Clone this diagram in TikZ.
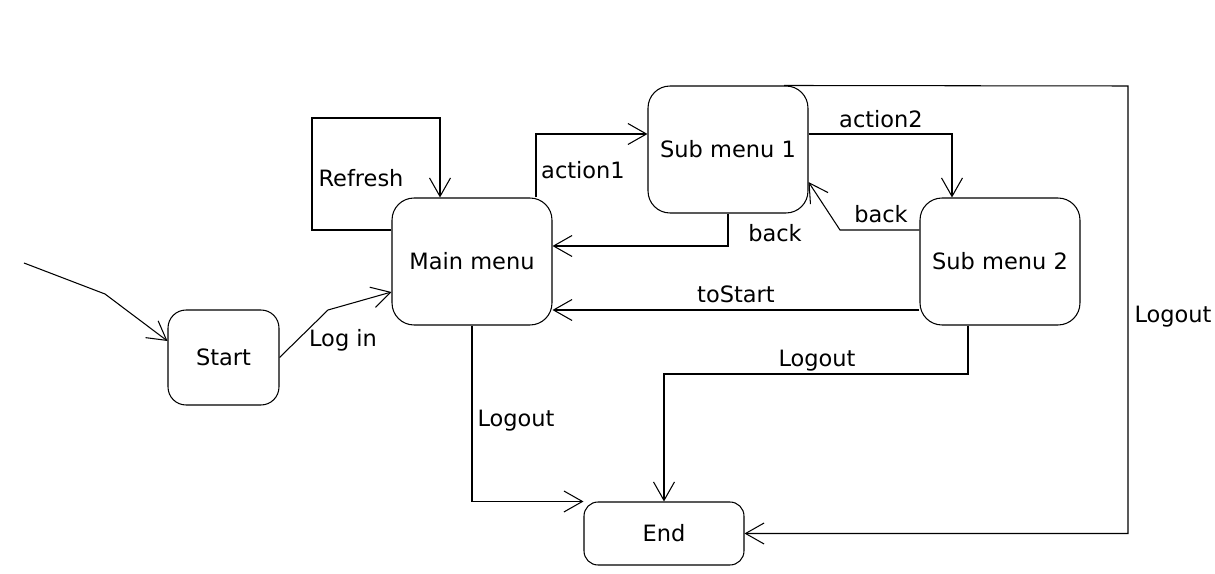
\documentclass[tikz,border=0pt]{standalone}
\usepackage{fontspec}
\setmainfont{DejaVu Sans}
\usetikzlibrary{arrows.meta}
\tikzset{
	state/.style={draw, line width=0.6pt, rounded corners=0.44cm, minimum width=3.2cm, minimum height=2.54cm, inner sep=0pt},
	trans/.style={line width=0.6pt, -{Straight Barb[length=0.37cm, width=0.42cm, line width=0.6pt]}},
	lbl/.style={anchor=base, inner sep=0pt},
}

\begin{document}
\begin{tikzpicture}[x=0.02cm, y=-0.02cm, font=\fontsize{12.8pt}{15pt}\selectfont]
		\useasboundingbox (0,0) rectangle (1215,574);
		
		\node[state, minimum width=2.22cm, minimum height=1.9cm, rounded corners=0.36cm] (start) at (223.5,357.5) {Start};
		\node[state] (main) at (472,261.5) {Main menu};
		\node[state] (sub1) at (728,149.5) {Sub menu 1};
		\node[state] (sub2) at (1000,261.5) {Sub menu 2};
		\node[state, minimum height=1.26cm, rounded corners=0.28cm] (end) at (664,533.5) {End};
		
		\coordinate (init) at (24,263);
		\draw[trans] (init) -- (105,294) -- (start.west |- 0,341);
		\draw[trans] (start.east) -- (328,310) -- (main.west |- 0,292); \node[lbl] (login) at (343,347) {Log in};
		
		\draw[trans] (main.west |- 0,230) -| (312,118) -| (main.north -| 440,0); \node[lbl] (refresh) at (361,187) {Refresh};
		\draw[trans] (main.north -| 536,0) |- (sub1.west |- 0,134); \node[lbl] (act1) at (583,179) {action1};
		\draw[trans] (sub1.east |- 0,134) -| (sub2.north -| 952,0); \node[lbl] (act2) at (881,128) {action2};
		
		\draw[trans] (sub1.south) |- (main.east |- 0,246); \node[lbl] (backa) at (775,242) {back};
		\draw[trans] (sub2.west |- 0,230) -- (840,230) -- (sub1.east |- 0,182); \node[lbl] (backb) at (881,223) {back};
		\draw[trans] (sub2.west |- 0,310) -- (main.east |- 0,310); \node[lbl] (tostart) at (736,303) {toStart};
		
		\draw[trans] (main.south) |- (end.north west); \node[lbl] (outa) at (516,427) {Logout};
		\draw[trans] (sub2.south -| 968,0) -- (968,374) -| (end.north); \node[lbl] (outb) at (817,367) {Logout};
		\draw[trans] (sub1.north -| 784,0) -- (1128,86) |- (end.east); \node[lbl] (outc) at (1173,323) {Logout};
		
	\end{tikzpicture}
\end{document}
